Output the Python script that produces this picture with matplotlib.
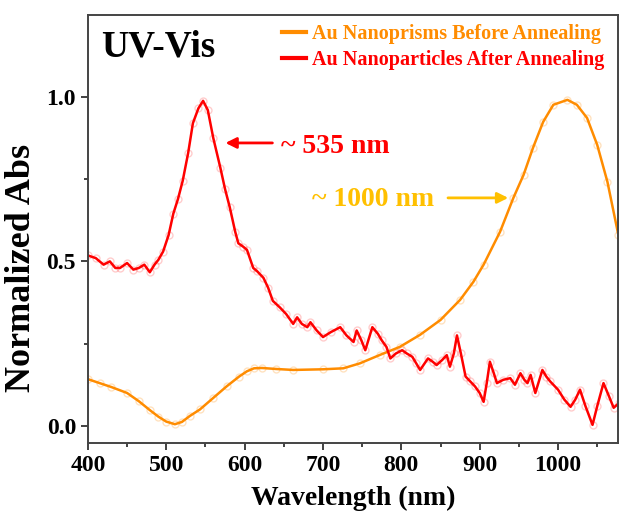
import matplotlib
matplotlib.use('Agg')
import matplotlib.pyplot as plt
from matplotlib.ticker import MultipleLocator

plt.rcParams['font.family'] = ['Liberation Serif', 'DejaVu Serif']
plt.rcParams['font.weight'] = 'bold'

# Au nanoprisms before annealing (orange)
wl_before = [400, 415, 430, 450, 465, 479, 490, 500, 511, 520, 530, 543, 560, 577, 593,
             603, 612, 622, 640, 662, 700, 726, 747, 773, 798, 824, 850, 875, 892, 905,
             926, 943, 956, 968, 981, 994, 1012, 1024, 1037, 1050, 1063, 1077]
abs_before = [0.142, 0.13, 0.118, 0.10, 0.075, 0.048, 0.028, 0.013, 0.005, 0.012, 0.03,
              0.05, 0.085, 0.12, 0.15, 0.166, 0.175, 0.176, 0.173, 0.170, 0.172, 0.175,
              0.19, 0.216, 0.24, 0.277, 0.322, 0.383, 0.438, 0.49, 0.59, 0.693, 0.763,
              0.845, 0.924, 0.976, 0.991, 0.976, 0.936, 0.854, 0.742, 0.58]

# Au nanoparticles after annealing (red)
wl_after = [400, 410, 420, 428, 435, 441, 450, 458, 465, 472, 479, 485, 490, 496, 503,
            509, 515, 521, 528, 534, 541, 547, 553, 560, 569, 575, 581, 588, 592, 598,
            603, 611, 616, 624, 630, 636, 645, 653, 662, 667, 673, 680, 684, 692, 700,
            710, 722, 730, 739, 743, 749, 754, 763, 770, 775, 781, 786, 793, 801, 807,
            814, 819, 824, 834, 840, 845, 852, 858, 862, 867, 871, 876, 882, 888, 894,
            900, 905, 909, 913, 918, 922, 930, 939, 945, 952, 957, 961, 965, 971, 980,
            985, 990, 1000, 1008, 1016, 1022, 1028, 1035, 1044, 1050, 1058, 1065,
            1071, 1078]
abs_after = [0.518, 0.51, 0.49, 0.50, 0.48, 0.48, 0.495, 0.475, 0.48, 0.49, 0.467, 0.49,
             0.505, 0.53, 0.58, 0.645, 0.69, 0.745, 0.83, 0.92, 0.965, 0.988, 0.96,
             0.875, 0.785, 0.72, 0.665, 0.59, 0.555, 0.545, 0.535, 0.48, 0.47, 0.45,
             0.42, 0.38, 0.36, 0.34, 0.31, 0.33, 0.31, 0.30, 0.315, 0.29, 0.27, 0.285,
             0.30, 0.275, 0.255, 0.29, 0.26, 0.23, 0.30, 0.28, 0.26, 0.24, 0.205, 0.22,
             0.23, 0.22, 0.21, 0.19, 0.17, 0.205, 0.195, 0.185, 0.20, 0.215, 0.18, 0.22,
             0.275, 0.22, 0.15, 0.135, 0.12, 0.10, 0.073, 0.13, 0.195, 0.16, 0.13, 0.14,
             0.145, 0.125, 0.16, 0.14, 0.13, 0.155, 0.10, 0.17, 0.15, 0.135, 0.11, 0.08,
             0.058, 0.08, 0.11, 0.06, 0.003, 0.06, 0.13, 0.09, 0.055, 0.07]

orange = '#FF8C00'
red = '#FF0000'
gold = '#FFC000'

fig = plt.figure(figsize=(6.19, 5.16), dpi=100)
ax = fig.add_axes([0.142, 0.1415, 0.857, 0.8295])

# faint raw points + smoothed line
ax.plot(wl_before, abs_before, 'o', mfc='none', mec=orange, ms=5, alpha=0.25)
ax.plot(wl_after, abs_after, 'o', mfc='none', mec=red, ms=5, alpha=0.2)
ax.plot(wl_before, abs_before, color=orange, lw=1.8, label='Au Nanoprisms Before Annealing')
ax.plot(wl_after, abs_after, color=red, lw=1.8, label='Au Nanoparticles After Annealing')

ax.set_xlim(400, 1077)
ax.set_ylim(-0.052, 1.249)
ax.xaxis.set_major_locator(MultipleLocator(100))
ax.xaxis.set_minor_locator(MultipleLocator(50))
ax.yaxis.set_major_locator(MultipleLocator(0.5))
ax.yaxis.set_minor_locator(MultipleLocator(0.25))
ax.tick_params(which='major', direction='out', length=5, width=1.3, labelsize=17, colors='#333333')
ax.tick_params(which='minor', direction='out', length=3, width=1.3, colors='#333333')
for lab in ax.get_xticklabels() + ax.get_yticklabels():
    lab.set_color('black')
    lab.set_fontweight('bold')
for sp in ax.spines.values():
    sp.set_color('#444444')
    sp.set_linewidth(1.4)

ax.set_xlabel('Wavelength (nm)', fontsize=20, fontweight='bold', labelpad=7)
ax.set_ylabel('Normalized Abs', fontsize=26, fontweight='bold')
ax.yaxis.set_label_coords(-0.095, 0.41)

ax.text(0.025, 0.965, 'UV-Vis', transform=ax.transAxes, fontsize=27, fontweight='bold',
        va='top', ha='left')

leg = ax.legend(loc='upper right', bbox_to_anchor=(1.008, 1.022), frameon=False,
                handlelength=1.2, handletextpad=0.3, labelspacing=0.3,
                prop={'weight': 'bold', 'size': 14.5}, labelcolor='linecolor')
for h in leg.get_lines():
    h.set_linewidth(3)

ax.annotate('', xy=(572, 0.86), xytext=(639, 0.86),
            arrowprops=dict(arrowstyle='-|>', color=red, lw=2, mutation_scale=16))
ax.text(646, 0.85, '~ 535 nm', color=red, fontsize=20, fontweight='bold', va='center')
ax.annotate('', xy=(940, 0.693), xytext=(856, 0.693),
            arrowprops=dict(arrowstyle='-|>', color=gold, lw=2, mutation_scale=16))
ax.text(686, 0.688, '~ 1000 nm', color=gold, fontsize=20, fontweight='bold', va='center')

fig.savefig('out.png', dpi=100)
